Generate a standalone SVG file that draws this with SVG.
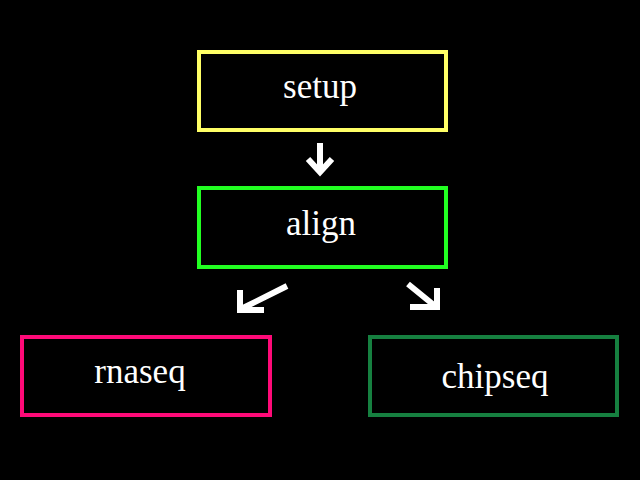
<svg xmlns="http://www.w3.org/2000/svg" width="640" height="480" viewBox="0 0 640 480">
<style>
.box{fill:#000;stroke-width:4}
.lbl{font-family:"Liberation Serif","Times New Roman",serif;font-size:35px;fill:#fff;text-anchor:middle}
.arr{fill:none;stroke:#fff;stroke-width:6;stroke-linejoin:miter;stroke-linecap:butt}
</style>
<rect width="640" height="480" fill="#000"/>
<g id="setup"><rect class="box" x="199" y="52" width="247" height="78" stroke="#ffff66"/><text class="lbl" x="320" y="98">setup</text></g>
<g id="align"><rect class="box" x="199" y="188" width="247" height="79" stroke="#22ff22"/><text class="lbl" x="321" y="235">align</text></g>
<g id="rnaseq"><rect class="box" x="22" y="337" width="248" height="78" stroke="#ff0a78"/><text class="lbl" x="140" y="383">rnaseq</text></g>
<g id="chipseq"><rect class="box" x="370" y="337" width="247" height="78" stroke="#168040"/><text class="lbl" x="495" y="388">chipseq</text></g>
<g id="connectors">
<path class="arr" d="M320,143 V172 M308,159 L320,172 L332,159"/>
<path class="arr" d="M287,286 L243,308 M240,290 V310 H264"/>
<path class="arr" d="M408,284 L435,306 M437,288 V307 H410"/>
</g>
</svg>
